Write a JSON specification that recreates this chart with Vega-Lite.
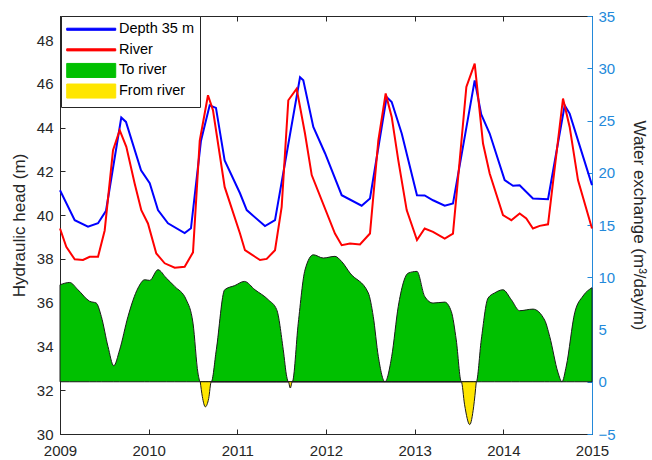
{
  "$schema": "https://vega.github.io/schema/vega-lite/v6.json",
  "width": 532,
  "height": 418,
  "autosize": "none",
  "padding": {"left": 60, "top": 16, "right": 60, "bottom": 26},
  "background": "white",
  "config": {
    "font": "Liberation Sans",
    "view": {"stroke": "#262626", "strokeWidth": 1},
    "axis": {
      "grid": false,
      "zindex": 1,
      "labelFont": "Liberation Sans",
      "titleFont": "Liberation Sans",
      "labelFontSize": 15,
      "titleFontSize": 17,
      "titleFontWeight": "normal",
      "labelColor": "#262626",
      "titleColor": "#262626",
      "domainColor": "#262626",
      "tickColor": "#262626",
      "domainWidth": 1,
      "tickWidth": 1,
      "tickSize": -5,
      "labelFlush": false,
      "labelOverlap": false
    },
    "legend": {
      "orient": "none",
      "legendX": 1,
      "legendY": 0,
      "fillColor": "white",
      "strokeColor": "#262626",
      "strokeWidth": 1,
      "padding": 6,
      "labelFont": "Liberation Sans",
      "labelFontSize": 14.5,
      "labelColor": "#000000",
      "symbolSize": 169,
      "symbolStrokeWidth": 1,
      "symbolType": "M-1.16,-1.08H6.38V1.08H-1.16Z",
      "gridAlign": "all",
      "rowPadding": 1.6,
      "labelOffset": 37.5
    }
  },
  "datasets": {
    "exchange": [
      {"year": 2009.000, "series": "To river", "q": 9.28},
      {"year": 2009.109, "series": "To river", "q": 9.5},
      {"year": 2009.203, "series": "To river", "q": 8.8},
      {"year": 2009.335, "series": "To river", "q": 7.7},
      {"year": 2009.409, "series": "To river", "q": 7.53},
      {"year": 2009.466, "series": "To river", "q": 6.25},
      {"year": 2009.541, "series": "To river", "q": 3.38},
      {"year": 2009.606, "series": "To river", "q": 1.53},
      {"year": 2009.673, "series": "To river", "q": 3.06},
      {"year": 2009.767, "series": "To river", "q": 6.25},
      {"year": 2009.880, "series": "To river", "q": 8.97},
      {"year": 2009.955, "series": "To river", "q": 9.76},
      {"year": 2010.012, "series": "To river", "q": 9.7},
      {"year": 2010.105, "series": "To river", "q": 10.72},
      {"year": 2010.199, "series": "To river", "q": 9.92},
      {"year": 2010.294, "series": "To river", "q": 9.12},
      {"year": 2010.424, "series": "To river", "q": 7.85},
      {"year": 2010.500, "series": "To river", "q": 5.61},
      {"year": 2010.556, "series": "To river", "q": 0.83},
      {"year": 2010.582, "series": "To river", "q": 0},
      {"year": 2010.706, "series": "To river", "q": 0},
      {"year": 2010.763, "series": "To river", "q": 3.06},
      {"year": 2010.857, "series": "To river", "q": 8.8},
      {"year": 2010.970, "series": "To river", "q": 9.2},
      {"year": 2011.080, "series": "To river", "q": 9.6},
      {"year": 2011.199, "series": "To river", "q": 8.8},
      {"year": 2011.349, "series": "To river", "q": 7.85},
      {"year": 2011.444, "series": "To river", "q": 6.9},
      {"year": 2011.518, "series": "To river", "q": 3.06},
      {"year": 2011.557, "series": "To river", "q": 0.5},
      {"year": 2011.575, "series": "To river", "q": 0},
      {"year": 2011.620, "series": "To river", "q": 0},
      {"year": 2011.687, "series": "To river", "q": 5.6},
      {"year": 2011.763, "series": "To river", "q": 10.7},
      {"year": 2011.857, "series": "To river", "q": 12.15},
      {"year": 2011.969, "series": "To river", "q": 11.84},
      {"year": 2012.101, "series": "To river", "q": 12.0},
      {"year": 2012.177, "series": "To river", "q": 11.5},
      {"year": 2012.271, "series": "To river", "q": 10.4},
      {"year": 2012.477, "series": "To river", "q": 8.5},
      {"year": 2012.533, "series": "To river", "q": 6.25},
      {"year": 2012.590, "series": "To river", "q": 2.42},
      {"year": 2012.665, "series": "To river", "q": 0},
      {"year": 2012.741, "series": "To river", "q": 2.42},
      {"year": 2012.815, "series": "To river", "q": 7.2},
      {"year": 2012.928, "series": "To river", "q": 10.4},
      {"year": 2013.026, "series": "To river", "q": 10.56},
      {"year": 2013.113, "series": "To river", "q": 8.17},
      {"year": 2013.207, "series": "To river", "q": 7.53},
      {"year": 2013.339, "series": "To river", "q": 7.62},
      {"year": 2013.413, "series": "To river", "q": 6.73},
      {"year": 2013.469, "series": "To river", "q": 4.0},
      {"year": 2013.526, "series": "To river", "q": 0},
      {"year": 2013.695, "series": "To river", "q": 0},
      {"year": 2013.751, "series": "To river", "q": 4.0},
      {"year": 2013.827, "series": "To river", "q": 8.0},
      {"year": 2013.902, "series": "To river", "q": 8.5},
      {"year": 2013.996, "series": "To river", "q": 8.8},
      {"year": 2014.090, "series": "To river", "q": 7.85},
      {"year": 2014.184, "series": "To river", "q": 6.8},
      {"year": 2014.334, "series": "To river", "q": 6.95},
      {"year": 2014.466, "series": "To river", "q": 5.9},
      {"year": 2014.523, "series": "To river", "q": 4.33},
      {"year": 2014.616, "series": "To river", "q": 0.9},
      {"year": 2014.661, "series": "To river", "q": 0},
      {"year": 2014.710, "series": "To river", "q": 1.5},
      {"year": 2014.805, "series": "To river", "q": 6.6},
      {"year": 2014.898, "series": "To river", "q": 8.2},
      {"year": 2015.000, "series": "To river", "q": 9.0},
      {"year": 2010.582, "series": "From river", "q": 0},
      {"year": 2010.605, "series": "From river", "q": -1.4},
      {"year": 2010.639, "series": "From river", "q": -2.4},
      {"year": 2010.677, "series": "From river", "q": -1.6},
      {"year": 2010.706, "series": "From river", "q": 0},
      {"year": 2011.575, "series": "From river", "q": 0},
      {"year": 2011.597, "series": "From river", "q": -0.6},
      {"year": 2011.620, "series": "From river", "q": 0},
      {"year": 2013.526, "series": "From river", "q": 0},
      {"year": 2013.563, "series": "From river", "q": -2.2},
      {"year": 2013.621, "series": "From river", "q": -4.1},
      {"year": 2013.665, "series": "From river", "q": -2.4},
      {"year": 2013.695, "series": "From river", "q": 0}
    ],
    "head": [
      {"year": 2009.000, "series": "Depth 35 m", "h": 41.14},
      {"year": 2009.166, "series": "Depth 35 m", "h": 39.77},
      {"year": 2009.316, "series": "Depth 35 m", "h": 39.47},
      {"year": 2009.429, "series": "Depth 35 m", "h": 39.63},
      {"year": 2009.519, "series": "Depth 35 m", "h": 40.2},
      {"year": 2009.691, "series": "Depth 35 m", "h": 44.46},
      {"year": 2009.744, "series": "Depth 35 m", "h": 44.26},
      {"year": 2009.914, "series": "Depth 35 m", "h": 42.05},
      {"year": 2010.012, "series": "Depth 35 m", "h": 41.46},
      {"year": 2010.105, "series": "Depth 35 m", "h": 40.23},
      {"year": 2010.218, "series": "Depth 35 m", "h": 39.63},
      {"year": 2010.406, "series": "Depth 35 m", "h": 39.18},
      {"year": 2010.477, "series": "Depth 35 m", "h": 39.4},
      {"year": 2010.590, "series": "Depth 35 m", "h": 43.4},
      {"year": 2010.688, "series": "Depth 35 m", "h": 45.02},
      {"year": 2010.759, "series": "Depth 35 m", "h": 44.9},
      {"year": 2010.857, "series": "Depth 35 m", "h": 42.5},
      {"year": 2011.030, "series": "Depth 35 m", "h": 41.0},
      {"year": 2011.106, "series": "Depth 35 m", "h": 40.23},
      {"year": 2011.312, "series": "Depth 35 m", "h": 39.5},
      {"year": 2011.425, "series": "Depth 35 m", "h": 39.77},
      {"year": 2011.707, "series": "Depth 35 m", "h": 46.3},
      {"year": 2011.744, "series": "Depth 35 m", "h": 46.16},
      {"year": 2011.857, "series": "Depth 35 m", "h": 44.03},
      {"year": 2011.989, "series": "Depth 35 m", "h": 42.83},
      {"year": 2012.177, "series": "Depth 35 m", "h": 40.91},
      {"year": 2012.402, "series": "Depth 35 m", "h": 40.43},
      {"year": 2012.496, "series": "Depth 35 m", "h": 40.76},
      {"year": 2012.684, "series": "Depth 35 m", "h": 45.4},
      {"year": 2012.741, "series": "Depth 35 m", "h": 45.17},
      {"year": 2012.854, "series": "Depth 35 m", "h": 43.73},
      {"year": 2013.026, "series": "Depth 35 m", "h": 40.91},
      {"year": 2013.113, "series": "Depth 35 m", "h": 40.9},
      {"year": 2013.207, "series": "Depth 35 m", "h": 40.68},
      {"year": 2013.339, "series": "Depth 35 m", "h": 40.43},
      {"year": 2013.432, "series": "Depth 35 m", "h": 40.53},
      {"year": 2013.677, "series": "Depth 35 m", "h": 46.16},
      {"year": 2013.751, "series": "Depth 35 m", "h": 44.6},
      {"year": 2013.846, "series": "Depth 35 m", "h": 43.73},
      {"year": 2014.015, "series": "Depth 35 m", "h": 41.6},
      {"year": 2014.109, "series": "Depth 35 m", "h": 41.34},
      {"year": 2014.184, "series": "Depth 35 m", "h": 41.37},
      {"year": 2014.334, "series": "Depth 35 m", "h": 40.76},
      {"year": 2014.504, "series": "Depth 35 m", "h": 40.73},
      {"year": 2014.692, "series": "Depth 35 m", "h": 45.02},
      {"year": 2014.748, "series": "Depth 35 m", "h": 44.64},
      {"year": 2015.000, "series": "Depth 35 m", "h": 41.37},
      {"year": 2009.000, "series": "River", "h": 39.39},
      {"year": 2009.071, "series": "River", "h": 38.55},
      {"year": 2009.166, "series": "River", "h": 37.98},
      {"year": 2009.259, "series": "River", "h": 37.95},
      {"year": 2009.335, "series": "River", "h": 38.1},
      {"year": 2009.429, "series": "River", "h": 38.1},
      {"year": 2009.504, "series": "River", "h": 39.3},
      {"year": 2009.598, "series": "River", "h": 42.97},
      {"year": 2009.673, "series": "River", "h": 43.88},
      {"year": 2009.748, "series": "River", "h": 43.12},
      {"year": 2009.842, "series": "River", "h": 41.45},
      {"year": 2009.917, "series": "River", "h": 40.23},
      {"year": 2009.992, "series": "River", "h": 39.62},
      {"year": 2010.086, "series": "River", "h": 38.25},
      {"year": 2010.181, "series": "River", "h": 37.8},
      {"year": 2010.294, "series": "River", "h": 37.6},
      {"year": 2010.406, "series": "River", "h": 37.64},
      {"year": 2010.500, "series": "River", "h": 38.3},
      {"year": 2010.576, "series": "River", "h": 43.4},
      {"year": 2010.669, "series": "River", "h": 45.48},
      {"year": 2010.725, "series": "River", "h": 44.8},
      {"year": 2010.857, "series": "River", "h": 41.29},
      {"year": 2011.030, "series": "River", "h": 39.16},
      {"year": 2011.086, "series": "River", "h": 38.4},
      {"year": 2011.256, "series": "River", "h": 37.95},
      {"year": 2011.331, "series": "River", "h": 38.0},
      {"year": 2011.425, "series": "River", "h": 38.4},
      {"year": 2011.500, "series": "River", "h": 40.38},
      {"year": 2011.575, "series": "River", "h": 45.25},
      {"year": 2011.669, "series": "River", "h": 45.78},
      {"year": 2011.763, "series": "River", "h": 43.73},
      {"year": 2011.839, "series": "River", "h": 41.83},
      {"year": 2012.101, "series": "River", "h": 39.16},
      {"year": 2012.177, "series": "River", "h": 38.63},
      {"year": 2012.271, "series": "River", "h": 38.7},
      {"year": 2012.383, "series": "River", "h": 38.66},
      {"year": 2012.496, "series": "River", "h": 39.16},
      {"year": 2012.590, "series": "River", "h": 43.4},
      {"year": 2012.673, "series": "River", "h": 45.56},
      {"year": 2012.741, "series": "River", "h": 44.49},
      {"year": 2012.815, "series": "River", "h": 42.51},
      {"year": 2012.910, "series": "River", "h": 40.23},
      {"year": 2013.026, "series": "River", "h": 38.86},
      {"year": 2013.113, "series": "River", "h": 39.39},
      {"year": 2013.207, "series": "River", "h": 39.24},
      {"year": 2013.339, "series": "River", "h": 38.93},
      {"year": 2013.432, "series": "River", "h": 39.16},
      {"year": 2013.508, "series": "River", "h": 42.51},
      {"year": 2013.583, "series": "River", "h": 45.86},
      {"year": 2013.677, "series": "River", "h": 46.92},
      {"year": 2013.771, "series": "River", "h": 43.27},
      {"year": 2013.846, "series": "River", "h": 41.9},
      {"year": 2013.996, "series": "River", "h": 40.0},
      {"year": 2014.090, "series": "River", "h": 39.77},
      {"year": 2014.184, "series": "River", "h": 40.08},
      {"year": 2014.259, "series": "River", "h": 39.85},
      {"year": 2014.334, "series": "River", "h": 39.39},
      {"year": 2014.410, "series": "River", "h": 39.51},
      {"year": 2014.504, "series": "River", "h": 39.58},
      {"year": 2014.673, "series": "River", "h": 45.33},
      {"year": 2014.748, "series": "River", "h": 44.03},
      {"year": 2014.842, "series": "River", "h": 41.6},
      {"year": 2015.000, "series": "River", "h": 39.39}
    ]
  },
  "layer": [
    {
      "data": {"name": "exchange"},
      "mark": {"type": "area", "interpolate": "monotone", "stroke": "#1a1a1a", "strokeWidth": 1, "opacity": 1},
      "encoding": {
        "x": {
          "field": "year", "type": "quantitative",
          "scale": {"domain": [2009, 2015], "nice": false, "zero": false},
          "axis": {"orient": "bottom", "values": [2009, 2010, 2011, 2012, 2013, 2014, 2015], "format": "d", "title": null, "labelPadding": 14}
        },
        "y": {
          "field": "q", "type": "quantitative", "stack": null,
          "scale": {"domain": [-5, 35], "nice": false},
          "axis": {
            "orient": "right",
            "values": [-5, 0, 5, 10, 15, 20, 25, 30, 35],
            "title": "Water exchange (m³/day/m)",
            "titleColor": "#262626",
            "labelColor": "#2389DA",
            "domainColor": "#2389DA",
            "tickColor": "#2389DA",
            "labelPadding": 11,
            "titlePadding": 14
          }
        },
        "color": {
          "field": "series", "type": "nominal",
          "scale": {"domain": ["Depth 35 m", "River", "To river", "From river"], "range": ["#0000FF", "#FF0000", "#00C000", "#FFE600"]},
          "legend": {
            "title": null,
            "symbolType": "M-1.16,-1.08H6.38V1.08H-1.16Z",
            "encode": {
              "symbols": {
                "update": {
                  "shape": {"signal": "datum.value === 'To river' || datum.value === 'From river' ? 'M-1.16,-1.08H6.38V1.08H-1.16Z' : 'M-1.16,-1.08M-1.16,1.08M-1.16,-0.16H6.38V0.16H-1.16Z'"},
                  "fill": {"signal": "datum.value === 'To river' ? '#00C000' : datum.value === 'From river' ? '#FFE600' : datum.value === 'River' ? '#FF0000' : '#0000FF'"},
                  "stroke": {"signal": "datum.value === 'To river' || datum.value === 'From river' ? '#1a1a1a' : 'transparent'"},
                  "opacity": {"value": 1},
                  "fillOpacity": {"value": 1}
                }
              }
            }
          }
        }
      }
    },
    {
      "data": {"name": "head"},
      "mark": {"type": "line", "strokeWidth": 2},
      "encoding": {
        "x": {
          "field": "year", "type": "quantitative",
          "axis": {"orient": "top", "values": [2009, 2010, 2011, 2012, 2013, 2014, 2015], "labels": false, "title": null}
        },
        "y": {
          "field": "h", "type": "quantitative",
          "scale": {"domain": [30, 49.1], "nice": false, "zero": false},
          "axis": {
            "orient": "left",
            "values": [30, 32, 34, 36, 38, 40, 42, 44, 46, 48],
            "title": "Hydraulic head (m)",
            "labelPadding": 12,
            "titlePadding": 8
          }
        },
        "color": {
          "field": "series", "type": "nominal",
          "legend": {
            "title": null,
            "symbolType": "M-1.16,-1.08H6.38V1.08H-1.16Z",
            "encode": {
              "symbols": {
                "update": {
                  "shape": {"signal": "datum.value === 'To river' || datum.value === 'From river' ? 'M-1.16,-1.08H6.38V1.08H-1.16Z' : 'M-1.16,-1.08M-1.16,1.08M-1.16,-0.16H6.38V0.16H-1.16Z'"},
                  "fill": {"signal": "datum.value === 'To river' ? '#00C000' : datum.value === 'From river' ? '#FFE600' : datum.value === 'River' ? '#FF0000' : '#0000FF'"},
                  "stroke": {"signal": "datum.value === 'To river' || datum.value === 'From river' ? '#1a1a1a' : 'transparent'"},
                  "opacity": {"value": 1},
                  "fillOpacity": {"value": 1}
                }
              }
            }
          }
        }
      }
    }
  ],
  "resolve": {"scale": {"y": "independent"}, "axis": {"x": "independent"}}
}
